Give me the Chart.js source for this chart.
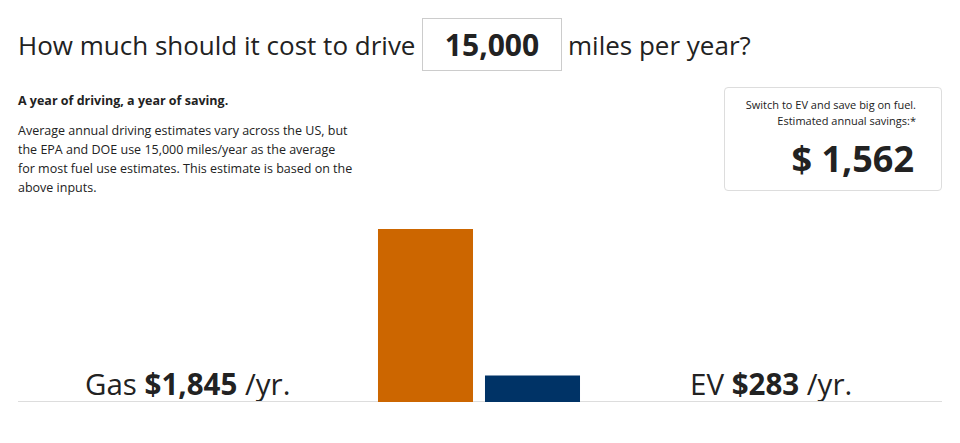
<!DOCTYPE html>
<html><head><meta charset="utf-8">
<script src="https://cdn.jsdelivr.net/npm/chart.js@4"></script>
<style>
body{margin:0;width:960px;height:443px;font-family:"Open Sans",sans-serif;color:#222;position:relative;overflow:hidden;background:#fff}
.abs{position:absolute}
.title{top:27px;font-size:26px;white-space:nowrap}
#miles{left:422px;top:18px;width:138px;height:51px;border:1px solid #ccc;font-size:30px;font-weight:bold;text-align:center;line-height:51px}
#sub{left:18px;top:92px;font-size:12.5px;font-weight:bold}
#desc{left:18px;top:121px;width:336px;font-size:12.5px;line-height:19px}
#save{left:724px;top:87px;width:216px;height:102px;border:1px solid #ddd;border-radius:4px;text-align:right;font-size:11px;line-height:16px}
#save .n{font-size:36px;font-weight:bold;margin-top:10px;margin-right:27px;line-height:40px}
.lab{top:363px;font-size:29.5px;white-space:nowrap}
#base{left:18px;top:401px;width:924px;height:1px;background:#ddd}
#wrap{left:372px;top:229px;width:214px;height:173px}
</style></head><body>
<div class="abs title" style="left:18px">How much should it cost to drive</div>
<div class="abs" id="miles">15,000</div>
<div class="abs title" style="left:568px">miles per year?</div>
<div class="abs" id="sub">A year of driving, a year of saving.</div>
<div class="abs" id="desc">Average annual driving estimates vary across the US, but the EPA and DOE use 15,000 miles/year as the average for most fuel use estimates. This estimate is based on the above inputs.</div>
<div class="abs" id="save"><div style="margin:9px 25px 0 0">Switch to EV and save big on fuel.<br>Estimated annual savings:*</div><div class="n" id="sv"></div></div>
<div class="abs lab" style="left:85px">Gas <b id="gl"></b> /yr.</div>
<div class="abs lab" style="left:690px">EV <b id="el"></b> /yr.</div>
<div class="abs" id="base"></div>
<div class="abs" id="wrap"><canvas id="c"></canvas></div>
<script>
const categories=["Gas","EV"];
const costs=[1845,283];
const colors=["#cc6600","#003366"];
const fmt=v=>v.toLocaleString('en-US');
document.getElementById('gl').textContent='$'+fmt(costs[0]);
document.getElementById('el').textContent='$'+fmt(costs[1]);
document.getElementById('sv').textContent='$ '+fmt(costs[0]-costs[1]);
new Chart(document.getElementById('c'),{type:'bar',
data:{labels:categories,datasets:[{data:costs,backgroundColor:colors,categoryPercentage:1,barPercentage:0.888}]},
options:{responsive:true,maintainAspectRatio:false,animation:false,layout:{padding:0},
plugins:{legend:{display:false},tooltip:{enabled:false}},
scales:{x:{display:false},y:{display:false,min:0,max:1845}}}});
</script></body></html>
